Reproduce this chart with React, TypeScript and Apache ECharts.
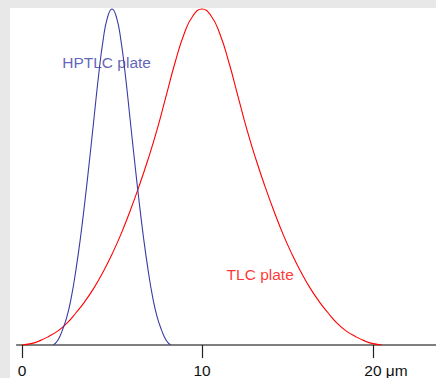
import React, { useEffect, useRef } from "react";
import * as echarts from "echarts";

// HPTLC plate curve (x in µm, relative height)
const HPTLC_X = [1.75, 2.0, 2.25, 2.5, 2.75, 3.0, 3.25, 3.5, 3.75, 4.0, 4.25, 4.5, 4.75, 5.0, 5.25, 5.5, 5.75, 6.0, 6.25, 6.5, 6.75, 7.0, 7.25, 7.5, 7.75, 8.0, 8.25];
const HPTLC_Y = [0, 0.015, 0.045, 0.085, 0.145, 0.225, 0.32, 0.43, 0.55, 0.675, 0.8, 0.905, 0.975, 1.0, 0.975, 0.905, 0.8, 0.675, 0.55, 0.43, 0.32, 0.225, 0.145, 0.085, 0.045, 0.015, 0];

// TLC plate curve
const TLC_X = [0, 0.5, 1, 1.5, 2, 2.5, 3, 3.5, 4, 4.5, 5, 5.5, 6, 6.5, 7, 7.5, 8, 8.5, 9, 9.5, 10, 10.5, 11, 11.5, 12, 12.5, 13, 13.5, 14, 14.5, 15, 15.5, 16, 16.5, 17, 17.5, 18, 18.5, 19, 19.5, 20];
const TLC_Y = [0, 0.004, 0.013, 0.026, 0.042, 0.065, 0.096, 0.13, 0.17, 0.217, 0.27, 0.33, 0.398, 0.472, 0.552, 0.64, 0.74, 0.84, 0.925, 0.98, 1.0, 0.98, 0.925, 0.84, 0.74, 0.64, 0.552, 0.472, 0.398, 0.33, 0.27, 0.217, 0.17, 0.13, 0.096, 0.065, 0.042, 0.026, 0.013, 0.004, 0];

// Axis ticks
const TICK_POSITIONS = [0, 10, 19.5];
const TICK_LABELS = ["0", "10", "20 μm"];

// Curve labels
const LABEL_NAMES = ["HPTLC plate", "TLC plate"];
const LABEL_X = [4.7, 13.23];
const LABEL_Y = [0.842, 0.209];

const BLUE = "#3a3aa6";
const RED = "#ff0000";
const FONT = "'Liberation Sans', Arial, sans-serif";

export default function App() {
  const ref = useRef<HTMLDivElement>(null);
  useEffect(() => {
    if (!ref.current) return;
    const chart = echarts.init(ref.current, null, { renderer: "svg" });
    const zip = (xs: number[], ys: number[]) => xs.map((x, i) => [x, ys[i]]);
    chart.setOption({
      animation: false,
      backgroundColor: "transparent",
      textStyle: { fontFamily: FONT },
      grid: { left: 6.6, right: 0, top: 0, bottom: 31, containLabel: false },
      xAxis: {
        type: "value",
        min: -0.3,
        max: 23,
        splitLine: { show: false },
        axisLine: { show: true, lineStyle: { color: "#555", width: 1.5 } },
        axisTick: {
          show: true,
          length: 13,
          customValues: TICK_POSITIONS,
          lineStyle: { color: "#222", width: 1.2 },
        },
        axisLabel: {
          customValues: TICK_POSITIONS,
          margin: 17,
          fontSize: 15.5,
          color: "#111",
          fontFamily: FONT,
          formatter: (v: number) => {
            const i = TICK_POSITIONS.indexOf(v);
            const t = i >= 0 ? TICK_LABELS[i] : "";
            return i === TICK_POSITIONS.length - 1 ? "{p|}" + t : t;
          },
          rich: { p: { width: 26 } },
        },
      },
      yAxis: {
        type: "value",
        min: 0,
        max: 1.003,
        show: false,
        splitLine: { show: false },
      },
      series: [
        {
          type: "line",
          data: zip(TLC_X, TLC_Y),
          smooth: 0.5,
          showSymbol: false,
          lineStyle: { color: RED, width: 1.1 },
          z: 2,
        },
        {
          type: "line",
          data: zip(HPTLC_X, HPTLC_Y),
          smooth: 0.5,
          showSymbol: false,
          lineStyle: { color: BLUE, width: 1.1 },
          z: 3,
        },
        {
          type: "scatter",
          symbolSize: 0,
          silent: true,
          z: 4,
          data: LABEL_NAMES.map((n, i) => ({
            value: [LABEL_X[i], LABEL_Y[i]],
            name: n,
            label: {
              show: true,
              position: "inside",
              formatter: n,
              fontSize: 15.5,
              fontFamily: FONT,
              color: i === 0 ? BLUE : RED,
            },
          })),
        },
      ],
    });
    return () => chart.dispose();
  }, []);

  return (
    <div
      style={{
        position: "fixed",
        left: 0,
        top: 0,
        width: 436,
        height: 378,
        background: "#e8e8e8",
        overflow: "hidden",
      }}
    >
      <div
        ref={ref}
        style={{
          position: "absolute",
          left: 10,
          top: 8,
          width: 426,
          height: 370,
          background: "#ffffff",
        }}
      />
    </div>
  );
}
